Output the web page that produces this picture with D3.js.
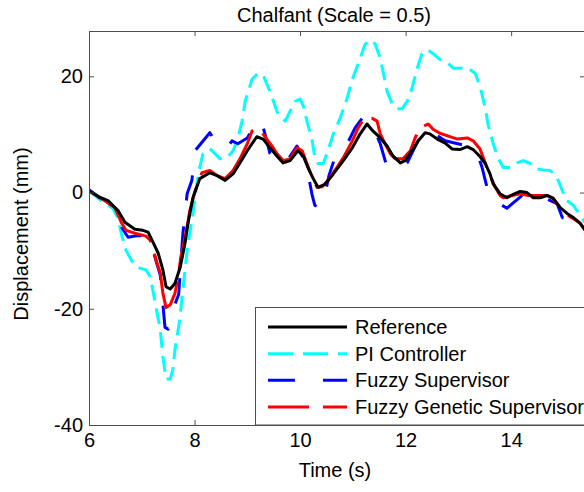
<!DOCTYPE html>
<html>
<head>
<meta charset="utf-8">
<script src="https://cdn.jsdelivr.net/npm/d3@7"></script>
<style>
  html, body { margin: 0; padding: 0; background: #fff; }
  svg { display: block; font-family: "Liberation Sans", Arial, Helvetica, sans-serif; }
</style>
</head>
<body>
<svg id="chart" width="584" height="492"></svg>
<script>
// Chalfant record at scale 0.5: table displacement (mm) against time (s)
const title = "Chalfant (Scale = 0.5)";
const xLabel = "Time (s)";
const yLabel = "Displacement (mm)";
const xTicks = [6, 8, 10, 12, 14];
const yTicks = [-40, -20, 0, 20];
const seriesNames = ["Reference", "PI Controller", "Fuzzy Supervisor", "Fuzzy Genetic Supervisor"];

// [time, displacement]
const reference = [[6.00,0.3],[6.20,-0.8],[6.36,-1.4],[6.55,-3.1],[6.68,-5.1],[6.87,-6.3],[7.02,-6.5],[7.12,-6.8],[7.21,-8.5],[7.31,-10.4],[7.40,-13.3],[7.46,-16.2],[7.54,-16.6],[7.63,-15.6],[7.73,-12.8],[7.82,-8.7],[7.88,-5.1],[7.97,-0.9],[8.10,2.4],[8.29,3.4],[8.43,2.9],[8.58,2.1],[8.73,3.2],[8.86,5.1],[9.00,7.2],[9.18,9.6],[9.30,9.2],[9.43,7.7],[9.56,6.3],[9.68,5.1],[9.81,5.5],[9.96,7.2],[10.06,6.3],[10.15,4.3],[10.25,2.4],[10.34,0.9],[10.47,1.4],[10.63,3.2],[10.82,5.5],[10.99,7.7],[11.14,10.1],[11.27,11.8],[11.38,10.6],[11.52,9.4],[11.65,8.0],[11.76,6.3],[11.90,5.1],[11.99,5.5],[12.12,7.2],[12.24,8.9],[12.37,10.3],[12.46,10.1],[12.60,9.2],[12.75,8.5],[12.88,7.5],[13.03,7.4],[13.17,7.9],[13.28,7.4],[13.41,6.2],[13.51,5.0],[13.60,3.2],[13.66,1.5],[13.79,-0.2],[13.92,-0.9],[14.04,-0.3],[14.17,0.2],[14.30,0.0],[14.42,-0.9],[14.55,-0.9],[14.68,-0.5],[14.80,-1.0],[14.93,-2.6],[15.06,-3.6],[15.18,-4.3],[15.31,-5.3],[15.40,-6.4]];

const piController = [[6.00,0.3],[6.23,-1.4],[6.45,-2.7],[6.55,-4.4],[6.61,-7.0],[6.70,-9.9],[6.80,-11.6],[6.89,-12.8],[7.08,-13.3],[7.16,-14.5],[7.21,-16.8],[7.27,-19.7],[7.35,-23.6],[7.40,-28.2],[7.46,-32.1],[7.54,-32.1],[7.59,-30.4],[7.63,-27.0],[7.71,-22.4],[7.78,-16.8],[7.86,-9.9],[7.97,-3.6],[8.07,3.2],[8.16,6.7],[8.29,7.5],[8.39,6.7],[8.48,5.8],[8.62,6.0],[8.73,7.2],[8.82,9.2],[8.90,12.3],[8.96,15.7],[9.09,19.5],[9.20,20.5],[9.30,20.2],[9.43,17.4],[9.58,13.5],[9.72,12.3],[9.81,14.0],[9.91,15.7],[10.00,16.1],[10.06,14.9],[10.13,12.3],[10.23,8.9],[10.28,6.0],[10.34,5.0],[10.44,5.0],[10.53,7.2],[10.63,10.1],[10.76,12.8],[10.89,16.2],[11.00,19.7],[11.14,23.1],[11.23,25.5],[11.33,26.3],[11.42,25.6],[11.52,23.1],[11.65,17.4],[11.74,15.4],[11.84,14.4],[11.93,14.4],[12.03,15.7],[12.12,17.9],[12.22,21.4],[12.31,23.9],[12.41,24.6],[12.52,23.9],[12.65,22.9],[12.81,22.2],[12.90,21.4],[13.03,21.4],[13.17,21.5],[13.32,20.5],[13.41,18.3],[13.51,14.5],[13.56,11.8],[13.66,8.4],[13.75,6.0],[13.85,4.3],[13.98,4.3],[14.11,5.1],[14.23,5.5],[14.36,5.0],[14.46,4.1],[14.61,3.9],[14.74,3.8],[14.87,2.6],[14.97,0.3],[15.06,-1.4],[15.18,-2.2],[15.27,-3.4],[15.40,-5.2]];

const fuzzySupervisor = [[6.00,0.5],[6.20,-0.9],[6.36,-1.5],[6.50,-3.0],[6.59,-5.6],[6.74,-7.7],[6.93,-7.4],[7.12,-7.5],[7.21,-9.9],[7.35,-14.2],[7.44,-23.2],[7.50,-23.5],[7.59,-20.2],[7.70,-17.5],[7.74,-12.0],[7.78,-7.0],[7.86,-0.2],[7.95,2.1],[8.01,7.2],[8.29,10.3],[8.45,8.0],[8.62,7.7],[8.71,8.9],[8.82,8.4],[9.00,9.4],[9.18,12.3],[9.28,12.0],[9.43,6.7],[9.56,5.5],[9.68,5.0],[9.72,5.0],[9.94,8.0],[10.06,6.0],[10.13,4.3],[10.23,-0.5],[10.28,-2.2],[10.38,-2.6],[10.44,-1.7],[10.55,3.0],[10.66,6.0],[10.76,6.8],[10.90,8.5],[11.04,11.1],[11.18,12.8],[11.30,12.0],[11.42,10.5],[11.52,8.4],[11.65,4.3],[11.80,4.5],[12.03,5.1],[12.12,6.8],[12.33,10.6],[12.46,10.6],[12.75,8.9],[13.17,8.0],[13.35,7.0],[13.45,4.3],[13.56,0.3],[13.70,-1.5],[13.92,-2.7],[14.21,-0.5],[14.40,-0.6],[14.60,-0.8],[14.87,-1.9],[14.97,-4.3],[15.20,-5.0],[15.40,-6.8]];

const fuzzyGenetic = [[6.00,0.3],[6.30,-1.4],[6.49,-2.6],[6.61,-5.1],[6.70,-6.5],[6.87,-7.0],[7.08,-7.5],[7.16,-8.2],[7.21,-9.4],[7.27,-11.6],[7.35,-13.8],[7.40,-17.3],[7.46,-19.8],[7.54,-19.3],[7.63,-17.3],[7.69,-14.5],[7.74,-11.1],[7.82,-7.7],[7.88,-4.8],[7.91,-3.1],[8.01,0.3],[8.14,3.4],[8.29,3.8],[8.43,2.9],[8.58,2.4],[8.73,3.8],[8.86,5.8],[9.00,8.4],[9.09,10.6],[9.18,11.1],[9.28,10.3],[9.37,9.2],[9.47,8.0],[9.56,6.7],[9.68,5.5],[9.81,5.8],[9.94,7.7],[10.04,7.2],[10.13,5.0],[10.23,2.6],[10.32,0.9],[10.42,1.0],[10.53,2.1],[10.66,3.8],[10.82,6.0],[10.99,8.9],[11.10,11.1],[11.23,13.0],[11.36,12.8],[11.46,12.3],[11.52,10.1],[11.61,8.4],[11.71,6.7],[11.80,5.8],[11.95,5.8],[12.09,7.2],[12.18,9.4],[12.27,11.1],[12.43,11.8],[12.52,10.9],[12.65,10.2],[12.81,9.7],[12.98,9.2],[13.17,9.4],[13.28,8.9],[13.41,7.5],[13.51,5.1],[13.60,2.9],[13.70,0.9],[13.79,-0.5],[13.85,-0.9],[14.02,-0.5],[14.17,-0.2],[14.32,-0.5],[14.68,-0.5],[14.78,-0.9],[14.89,-2.2],[15.02,-3.6],[15.16,-4.4],[15.31,-5.3],[15.40,-6.5]];

const W = 584, H = 492;
const plot = { left: 89, right: 585, top: 31, bottom: 425 };
const axisColor = "#4d4d4d";
const fontSize = 20;

const svg = d3.select("#chart");
svg.append("rect").attr("width", W).attr("height", H).attr("fill", "#fff");

const x = d3.scaleLinear().domain([6, 15.4]).range([plot.left, plot.right]);
const y = d3.scaleLinear().domain([-40, 27.8]).range([plot.bottom, plot.top]);

svg.append("defs").append("clipPath").attr("id", "plot-clip")
  .append("rect")
  .attr("x", plot.left).attr("y", plot.top)
  .attr("width", plot.right - plot.left).attr("height", plot.bottom - plot.top);

// line styles (plot dashes and legend sample dashes)
const styles = [
  { data: reference,       color: "#000000", dash: null,    legendDash: null },
  { data: piController,    color: "#00ffff", dash: "16,8",  legendDash: "25,10" },
  { data: fuzzySupervisor, color: "#0000ff", dash: "26,26", legendDash: "27,28" },
  { data: fuzzyGenetic,    color: "#ff0000", dash: "85,12", legendDash: "41,14" }
];

const line = d3.line().x(d => x(d[0])).y(d => y(d[1]));

const lines = svg.append("g").attr("clip-path", "url(#plot-clip)");
// draw order: PI, fuzzy, fuzzy genetic, then reference on top
[1, 2, 3, 0].forEach(i => {
  const s = styles[i];
  lines.append("path")
    .datum(s.data)
    .attr("d", line)
    .attr("fill", "none")
    .attr("stroke", s.color)
    .attr("stroke-width", 3)
    .attr("stroke-linejoin", "round")
    .attr("stroke-dasharray", s.dash);
});

// axes with inward ticks on all four sides
const fmt = d => String(d);
function styleAxis(g) {
  g.selectAll("path.domain").attr("stroke", axisColor);
  g.selectAll(".tick line").attr("stroke", axisColor);
  g.selectAll(".tick text").attr("fill", "#000").attr("font-size", fontSize)
    .attr("font-family", "Liberation Sans, Arial, sans-serif");
}

svg.append("g").attr("transform", `translate(0,${plot.bottom})`)
  .call(d3.axisBottom(x).tickValues(xTicks).tickFormat(fmt).tickSizeInner(-5).tickSizeOuter(0).tickPadding(8))
  .call(styleAxis);
svg.append("g").attr("transform", `translate(0,${plot.top})`)
  .call(d3.axisTop(x).tickValues(xTicks).tickFormat("").tickSizeInner(-5).tickSizeOuter(0))
  .call(styleAxis);
svg.append("g").attr("transform", `translate(${plot.left},0)`)
  .call(d3.axisLeft(y).tickValues(yTicks).tickFormat(fmt).tickSizeInner(-5).tickSizeOuter(0).tickPadding(6))
  .call(styleAxis);
svg.append("g").attr("transform", `translate(${plot.right},0)`)
  .call(d3.axisRight(y).tickValues(yTicks).tickFormat("").tickSizeInner(-5).tickSizeOuter(0))
  .call(styleAxis);

// title and axis labels
svg.append("text").attr("x", 334).attr("y", 22).attr("text-anchor", "middle")
  .attr("font-size", fontSize).text(title);
svg.append("text").attr("x", 335).attr("y", 477).attr("text-anchor", "middle")
  .attr("font-size", fontSize).text(xLabel);
svg.append("text").attr("transform", "translate(28,234) rotate(-90)").attr("text-anchor", "middle")
  .attr("font-size", fontSize).text(yLabel);

// legend
const legend = svg.append("g");
legend.append("rect")
  .attr("x", 255.5).attr("y", 307.5).attr("width", 340).attr("height", 117.5)
  .attr("fill", "#fff").attr("stroke", axisColor).attr("stroke-width", 1);
const rowY = d3.scalePoint().domain(seriesNames).range([327, 407]);
seriesNames.forEach((name, i) => {
  const s = styles[i];
  legend.append("line")
    .attr("x1", 268).attr("x2", 347)
    .attr("y1", rowY(name)).attr("y2", rowY(name))
    .attr("stroke", s.color).attr("stroke-width", 3)
    .attr("stroke-dasharray", s.legendDash);
  legend.append("text")
    .attr("x", 355).attr("y", rowY(name)).attr("dy", "0.35em")
    .attr("font-size", fontSize).text(name);
});
</script>
</body>
</html>
